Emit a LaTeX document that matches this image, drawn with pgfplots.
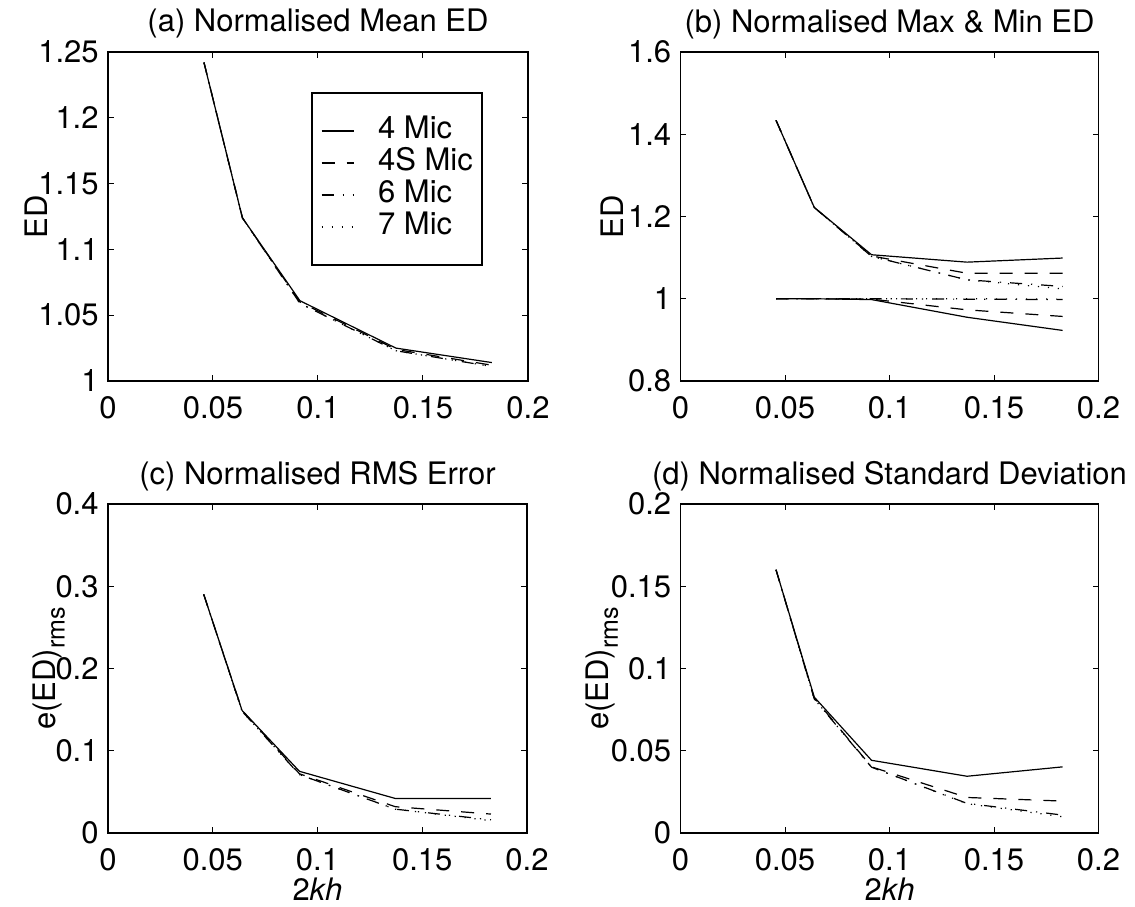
\documentclass[border=0pt]{standalone}
\usepackage{fontspec}
\setmainfont{TeX Gyre Heros}
\usepackage{pgfplots}
\usepackage{pgfplotstable}
\pgfplotsset{compat=1.18}
\newcommand{\fs}{\fontsize{15.5}{18}\selectfont}
\newcommand{\rmslabel}{e(ED)\raisebox{-4.5pt}{\fontsize{12.5}{14}\selectfont rms}}

% (a) normalised mean ED
\pgfplotstableread{
x      m4     s4     m6     m7
0.0457 1.242  1.242  1.242  1.242
0.0640 1.124  1.124  1.124  1.124
0.0914 1.061  1.060  1.059  1.059
0.1371 1.025  1.024  1.023  1.023
0.1828 1.014  1.012  1.011  1.011
}\meanED
% (b) normalised max ED
\pgfplotstableread{
x      m4     s4     m6     m7
0.0457 1.434  1.434  1.434  1.434
0.0640 1.222  1.222  1.222  1.222
0.0914 1.107  1.104  1.103  1.103
0.1371 1.089  1.062  1.046  1.046
0.1828 1.099  1.062  1.030  1.024
}\maxED
% (b) normalised min ED
\pgfplotstableread{
x      m4     s4     m6     m7
0.0457 1.000  1.000  1.000  1.000
0.0640 1.000  1.000  1.000  1.000
0.0914 0.998  0.999  1.000  1.000
0.1371 0.955  0.973  0.999  1.000
0.1828 0.923  0.957  0.998  0.999
}\minED
% (c) normalised RMS error
\pgfplotstableread{
x      m4     s4     m6     m7
0.0457 0.290  0.290  0.290  0.290
0.0640 0.149  0.149  0.148  0.148
0.0914 0.075  0.072  0.071  0.071
0.1371 0.042  0.032  0.029  0.029
0.1828 0.042  0.023  0.016  0.015
}\rmsED
% (d) normalised standard deviation
\pgfplotstableread{
x      m4     s4     m6     m7
0.0457 0.160  0.160  0.160  0.160
0.0640 0.0826 0.0820 0.0815 0.0815
0.0914 0.0442 0.0402 0.0400 0.0400
0.1371 0.0345 0.0216 0.0180 0.0178
0.1828 0.0402 0.0194 0.0109 0.0099
}\stdED

\tikzset{
  s1/.style={solid},
  s4/.style={dash pattern=on 6.5pt off 6pt},
  s6/.style={dash pattern=on 6pt off 4.5pt on 0.6pt off 4.5pt},
  s7/.style={dash pattern=on 0.6pt off 4.4pt},
}

\pgfplotsset{
  myax/.style={
    scale only axis, anchor=south west,
    xmin=0, xmax=0.2,
    xtick={0,0.05,0.1,0.15,0.2}, xticklabels={0,0.05,0.1,0.15,0.2},
    axis line style={line width=0.8pt},
    tick style={line width=0.5pt, black},
    major tick length=2.9pt,
    tick align=inside,
    no marks,
    ticklabel style={font=\fs},
    xticklabel style={anchor=north, inner sep=0pt, yshift=-7.5pt},
    yticklabel style={anchor=east, inner sep=0pt, xshift=-4.5pt},
    every axis title/.style={at={(0.5,1)}, anchor=base, yshift=10pt, font=\fs, inner sep=0pt},
    ylabel style={font=\fs, anchor=center, inner sep=0pt},
    xlabel style={font=\fs, at={(axis description cs:0.5,0)}, anchor=base, yshift=-33.5pt, inner sep=0pt},
    every axis plot/.append style={line width=0.6pt, black},
  },
}

\begin{document}
\begin{tikzpicture}
\useasboundingbox (0,0) rectangle (567.5pt,453pt);

% (a)
\begin{axis}[myax, at={(54pt,262.5pt)}, width=210pt, height=164.5pt,
  ymin=1, ymax=1.25,
  ytick={1,1.05,1.1,1.15,1.2,1.25}, yticklabels={1,1.05,1.1,1.15,1.2,1.25},
  title={(a) Normalised Mean ED},
  ylabel={ED}, ylabel style={at={(axis description cs:-0.17,0.5)}},
  legend style={at={(0.892,0.878)}, anchor=north east, draw=black, line width=0.8pt,
    font=\fs, inner xsep=4.5pt, inner ysep=11pt, row sep=0pt,
    cells={anchor=west},
    nodes={inner sep=0pt, text height=12pt, text depth=4pt},
    /tikz/every odd column/.append style={column sep=12pt}},
  legend image code/.code={\draw[#1, line width=0.6pt] (0pt,0pt) -- (16pt,0pt);},
]
\addplot[s1] table[x=x,y=m4] {\meanED};
\addplot[s4] table[x=x,y=s4] {\meanED};
\addplot[s6] table[x=x,y=m6] {\meanED};
\addplot[s7] table[x=x,y=m7] {\meanED};
\legend{4 Mic, 4S Mic, 6 Mic, 7 Mic}
\end{axis}

% (b)
\begin{axis}[myax, at={(340.25pt,262.5pt)}, width=209pt, height=164.5pt,
  ymin=0.8, ymax=1.6,
  ytick={0.8,1,1.2,1.4,1.6}, yticklabels={0.8,1,1.2,1.4,1.6},
  title={(b) Normalised Max \& Min ED},
  ylabel={ED}, ylabel style={at={(axis description cs:-0.164,0.5)}},
]
\addplot[s1] table[x=x,y=m4] {\maxED};
\addplot[s4] table[x=x,y=s4] {\maxED};
\addplot[s6] table[x=x,y=m6] {\maxED};
\addplot[s7] table[x=x,y=m7] {\maxED};
\addplot[s1] table[x=x,y=m4] {\minED};
\addplot[s4] table[x=x,y=s4] {\minED};
\addplot[s6] table[x=x,y=m6] {\minED};
\addplot[s7] table[x=x,y=m7] {\minED};
\end{axis}

% (c)
\begin{axis}[myax, at={(54pt,36.5pt)}, width=209.5pt, height=164.5pt,
  ymin=0, ymax=0.4,
  ytick={0,0.1,0.2,0.3,0.4}, yticklabels={0,0.1,0.2,0.3,0.4},
  title={(c) Normalised RMS Error},
  ylabel={\rmslabel}, ylabel style={at={(axis description cs:-0.141,0.5)}},
  xlabel={2\textit{kh}},
]
\addplot[s1] table[x=x,y=m4] {\rmsED};
\addplot[s4] table[x=x,y=s4] {\rmsED};
\addplot[s6] table[x=x,y=m6] {\rmsED};
\addplot[s7] table[x=x,y=m7] {\rmsED};
\end{axis}

% (d)
\begin{axis}[myax, at={(340.25pt,36.5pt)}, width=209pt, height=164.5pt,
  ymin=0, ymax=0.2,
  ytick={0,0.05,0.1,0.15,0.2}, yticklabels={0,0.05,0.1,0.15,0.2},
  title={(d) Normalised Standard Deviation},
  ylabel={\rmslabel}, ylabel style={at={(axis description cs:-0.187,0.5)}},
  xlabel={2\textit{kh}},
]
\addplot[s1] table[x=x,y=m4] {\stdED};
\addplot[s4] table[x=x,y=s4] {\stdED};
\addplot[s6] table[x=x,y=m6] {\stdED};
\addplot[s7] table[x=x,y=m7] {\stdED};
\end{axis}
\end{tikzpicture}
\end{document}
